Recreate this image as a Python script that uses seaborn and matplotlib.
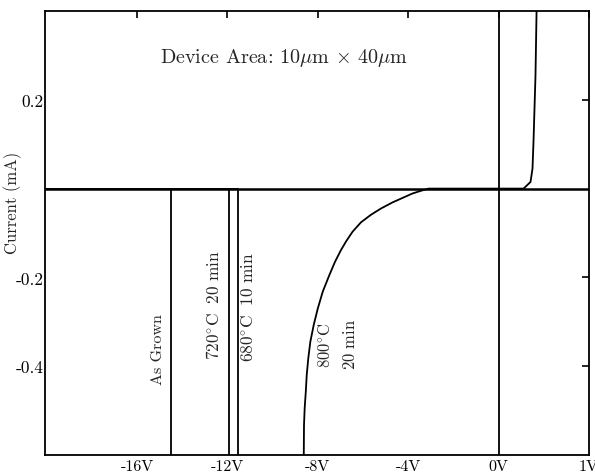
import numpy as np
import pandas as pd
import matplotlib
matplotlib.use("Agg")
import matplotlib.pyplot as plt
import seaborn as sns

# ---- data (V in volts, I in mA) ----
asgrown_v = [-20.0, -14.51, -14.51]
asgrown_i = [0.0, 0.0, -0.62]
a720_v = [-20.0, -11.93, -11.93]
a720_i = [0.0, 0.0, -0.62]
a680_v = [-20.0, -11.55, -11.55]
a680_i = [0.0, 0.0, -0.62]
a800_v = [-8.62, -8.61, -8.58, -8.53, -8.49, -8.42, -8.33, -8.18, -8.00, -7.78,
          -7.49, -7.24, -6.98, -6.75, -6.46, -6.09, -5.65, -5.21, -4.69, -4.25,
          -3.81, -3.44, -3.1, 0.0]
a800_i = [-0.60, -0.532, -0.494, -0.457, -0.420, -0.382, -0.345, -0.307, -0.270, -0.232,
          -0.195, -0.165, -0.139, -0.119, -0.097, -0.076, -0.059, -0.045, -0.031, -0.021,
          -0.011, -0.005, 0.0, 0.0]
fwd_v = [0.0, 0.276, 0.353, 0.375, 0.386, 0.408, 0.42]
fwd_i = [0.0, 0.0, 0.015, 0.045, 0.105, 0.254, 0.40]

xticks = [-16, -12, -8, -4, 0, 1]
xticklabels = ["-16V", "-12V", "-8V", "-4V", "0V", "1V"]
yticks = [0.2, -0.2, -0.4]
yticklabels = ["0.2", "-0.2", "-0.4"]

sns.set_style("white")
plt.rcParams["font.family"] = ["cmr10", "DejaVu Serif"]
plt.rcParams["mathtext.fontset"] = "cm"
plt.rcParams["axes.unicode_minus"] = False

fig = plt.figure(figsize=(5.95, 4.77), dpi=100)
ax = fig.add_axes([45/595, 1-456/477, (589-45)/595, (456-12)/477])

def fwd(x):
    x = np.asarray(x, dtype=float)
    return np.where(x < 0, x, 4 * x)

def inv(x):
    x = np.asarray(x, dtype=float)
    return np.where(x < 0, x, x / 4)

ax.set_xscale("function", functions=(fwd, inv))

series = [(asgrown_v, asgrown_i), (a720_v, a720_i), (a680_v, a680_i),
          (a800_v, a800_i), (fwd_v, fwd_i)]
for v, i in series:
    df = pd.DataFrame({"V": v, "I": i})
    sns.lineplot(data=df, x="V", y="I", ax=ax, color="black", lw=1.3,
                 sort=False, estimator=None)

ax.axhline(0, color="black", lw=1.8)
ax.axvline(0, color="black", lw=1.3)

ax.set_xlim(-20.07, 1.0)
ax.set_ylim(-0.6, 0.4)
ax.set_xticks(xticks)
ax.set_xticklabels(xticklabels, fontsize=11.5)
ax.set_yticks(yticks)
ax.set_yticklabels(yticklabels, fontsize=12.5)
ax.tick_params(axis="x", pad=3)
ax.tick_params(axis="y", pad=1)
ax.tick_params(direction="in", length=5, width=1.2, top=True, right=True,
               colors="black")
for s in ax.spines.values():
    s.set_color("black")
    s.set_linewidth(1.3)
ax.set_xlabel("")
ax.set_ylabel("Current (mA)", fontsize=12)
ax.yaxis.set_label_coords(-0.042, 0.57)

ax.text(-9.5, 0.297, r"Device Area: 10$\mu$m $\times$ 40$\mu$m", fontsize=14.5,
        ha="center", va="center")
ax.text(-15.05, -0.36, "As Grown", rotation=90, fontsize=11.5, ha="center", va="center")
ax.text(-12.6, -0.26, r"$\mathrm{720^{\circ}C\ \ 20\ min}$", rotation=90, fontsize=12.5,
        ha="center", va="center")
ax.text(-11.05, -0.265, r"$\mathrm{680^{\circ}C\ \ 10\ min}$", rotation=90, fontsize=12.5,
        ha="center", va="center")
ax.text(-7.1, -0.35, r"$\mathrm{800^{\circ}C}$" + "\n" + r"$\mathrm{20\ min}$", rotation=90,
        fontsize=12, ha="center", va="center", linespacing=1.6)

fig.savefig("out.png", dpi=100)
